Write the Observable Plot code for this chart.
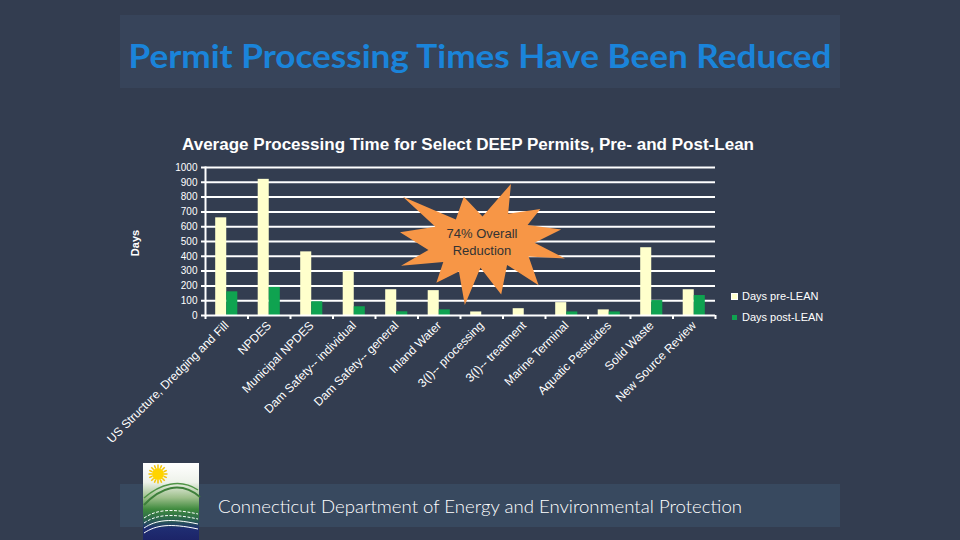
<!DOCTYPE html>
<html>
<head>
<meta charset="utf-8">
<script src="https://cdn.jsdelivr.net/npm/d3@7"></script>
<script src="https://cdn.jsdelivr.net/npm/@observablehq/plot@0.6"></script>
<style>
  html, body { margin: 0; padding: 0; background: #333D50; }
  #stage { position: relative; width: 960px; height: 540px; overflow: hidden; background: #333D50; }
  #stage > svg { position: absolute; left: 0; top: 0; }
  #overlay { pointer-events: none; }
  .legend { position: absolute; left: 732px; font: 11px "Liberation Sans", Arial, sans-serif; color: #fff; display: flex; align-items: center; white-space: nowrap; }
  .legend span.sw { display: inline-block; width: 5px; height: 5px; margin-right: 5px; }
</style>
</head>
<body>
<div id="stage"></div>
<script>
// ---- data ----
const categories = [
  "US Structure, Dredging and Fill",
  "NPDES",
  "Municipal NPDES",
  "Dam Safety-- individual",
  "Dam Safety-- general",
  "Inland Water",
  "3(I)-- processing",
  "3(I)-- treatment",
  "Marine Terminal",
  "Aquatic Pesticides",
  "Solid Waste",
  "New Source Review"
];
const preLean  = [660, 920, 430, 298, 174, 168, 24, 46, 87, 38, 458, 174];
const postLean = [160, 190, 93, 59, 25, 38, 0, 0, 24, 24, 101, 135];
const seriesNames = ["Days pre-LEAN", "Days post-LEAN"];
const yTicks = [0, 100, 200, 300, 400, 500, 600, 700, 800, 900, 1000];
const slideTitle = "Permit Processing Times Have Been Reduced";
const chartTitle = "Average Processing Time for Select DEEP Permits, Pre- and Post-Lean";
const yLabel = "Days";
const calloutLines = ["74% Overall", "Reduction"];
const footerText = "Connecticut Department of Energy and Environmental Protection";

const preColor = "#FFFFCC";
const postColor = "#0FA350";

const rows = categories.map((c, i) => ({category: c, pre: preLean[i], post: postLean[i]}));

const W = 960, H = 540;
const mL = 205, mR = 245, mT = 167, mB = 225;
const padInner = 0.48;
const step = (W - mL - mR) / categories.length;
const half = step * (1 - padInner) / 2;

const stage = document.getElementById("stage");

// background boxes (behind plot)
const bg = d3.create("svg").attr("width", W).attr("height", H);
bg.append("rect").attr("x", 120).attr("y", 15).attr("width", 720).attr("height", 73).attr("fill", "#37445A");
bg.append("rect").attr("x", 120).attr("y", 484).attr("width", 720).attr("height", 43).attr("fill", "#38495F");
stage.appendChild(bg.node());

const plot = Plot.plot({
  width: W, height: H,
  marginLeft: mL, marginRight: mR, marginTop: mT, marginBottom: mB,
  style: {background: "transparent", color: "#ffffff", fontFamily: "'Liberation Sans', Arial, sans-serif", fontSize: "10px"},
  x: {domain: categories, paddingInner: padInner, paddingOuter: padInner / 2, round: false, label: null},
  y: {domain: [0, 1000], label: null},
  marks: [
    Plot.ruleY(yTicks.filter(d => d > 0), {stroke: "#ffffff", strokeWidth: 2, insetLeft: -4}),
    Plot.barY(rows, {x: "category", y: "pre", fill: preColor, insetRight: half, insetLeft: 0}),
    Plot.barY(rows, {x: "category", y: "post", fill: postColor, insetLeft: half, insetRight: 0}),
    Plot.ruleY([0], {stroke: "#ffffff", strokeWidth: 2, insetLeft: -4}),
    Plot.frame({anchor: "left", stroke: "#ffffff", strokeWidth: 2}),
    Plot.ruleX(categories, {x: d => d, dx: -step / 2, insetTop: H - mT - mB, insetBottom: -4, stroke: "#ffffff", strokeWidth: 2}),
    Plot.ruleX(categories.slice(-1), {x: d => d, dx: step / 2, insetTop: H - mT - mB, insetBottom: -4, stroke: "#ffffff", strokeWidth: 2}),
    Plot.axisY({ticks: yTicks, tickFormat: d3.format("d"), tickSize: 0, tickPadding: 8, fontSize: 10, fill: "#ffffff"}),
    Plot.axisX({tickSize: 0, tickPadding: 8, tickRotate: -45, fontSize: 12, fill: "#ffffff"})
  ]
});
stage.appendChild(plot);

// overlay: titles, callout, footer, logo
const ov = d3.create("svg").attr("id", "overlay").attr("width", W).attr("height", H);
const defs = ov.append("defs");

ov.append("text").attr("x", 480).attr("y", 68).attr("text-anchor", "middle")
  .attr("textLength", 703).attr("lengthAdjust", "spacingAndGlyphs")
  .attr("fill", "#1A84DA").style("font", "bold 33px Lato, 'Open Sans', sans-serif")
  .text(slideTitle);

ov.append("text").attr("x", 468).attr("y", 150).attr("text-anchor", "middle")
  .attr("textLength", 572).attr("lengthAdjust", "spacingAndGlyphs")
  .attr("fill", "#ffffff").style("font", "bold 16px 'Liberation Sans', Arial, sans-serif")
  .text(chartTitle);

ov.append("text").attr("transform", "translate(139,243) rotate(-90)").attr("text-anchor", "middle")
  .attr("fill", "#ffffff").style("font", "bold 11px 'Liberation Sans', Arial, sans-serif")
  .text(yLabel);

// explosion callout (irregular seal shape)
const seal = [[10800,5800],[14522,0],[14155,5325],[18380,4457],[16702,7315],[21097,8137],[17607,10475],[21600,13290],[16837,12942],[18145,18095],[14020,14457],[13247,19737],[10532,14935],[8485,21600],[7715,15627],[4762,17617],[5667,13937],[135,14587],[3722,11775],[0,8615],[4627,7617],[370,2295],[7312,6320],[8352,2295]];
const sx = d3.scaleLinear().domain([0, 21600]).range([400, 565]);
const sy = d3.scaleLinear().domain([0, 21600]).range([184, 305]);
ov.append("path").attr("d", "M" + seal.map(p => sx(p[0]) + "," + sy(p[1])).join("L") + "Z")
  .attr("fill", "#F79646");
calloutLines.forEach((t, i) => {
  ov.append("text").attr("x", 482).attr("y", 238 + i * 17).attr("text-anchor", "middle")
    .attr("fill", "#333333").style("font", "13px 'Liberation Sans', Arial, sans-serif").text(t);
});

// footer text
ov.append("text").attr("x", 218).attr("y", 513)
  .attr("textLength", 524).attr("lengthAdjust", "spacingAndGlyphs")
  .attr("fill", "#ffffff").style("font", "300 18px Lato, 'Open Sans', sans-serif")
  .text(footerText);

// logo
const lg = defs.append("linearGradient").attr("id", "logoGrad").attr("x1", 0).attr("y1", 0).attr("x2", 0).attr("y2", 1);
[[0, "#ffffff"], [0.25, "#eef2ea"], [0.45, "#9cbf8a"], [0.6, "#3f8a3e"], [0.72, "#2d6a4a"], [0.85, "#1f2d72"], [1, "#1c2468"]]
  .forEach(([o, c]) => lg.append("stop").attr("offset", o).attr("stop-color", c));
ov.append("rect").attr("x", 143).attr("y", 463).attr("width", 56).attr("height", 77).attr("fill", "url(#logoGrad)");
const sun = ov.append("g").attr("transform", "translate(158,474)");
d3.range(16).forEach(k => {
  const a = k * Math.PI / 8;
  sun.append("line").attr("x1", 6 * Math.cos(a)).attr("y1", 6 * Math.sin(a))
    .attr("x2", 9.5 * Math.cos(a)).attr("y2", 9.5 * Math.sin(a)).attr("stroke", "#F5C400").attr("stroke-width", 1.5);
});
sun.append("circle").attr("r", 6).attr("fill", "#FFD400");
ov.append("path").attr("d", "M144,505 C160,488 180,480 200,497").attr("fill", "none").attr("stroke", "#3d7f3a").attr("stroke-width", 2);
ov.append("path").attr("d", "M144,498 C160,484 180,478 198,490").attr("fill", "none").attr("stroke", "#4f9446").attr("stroke-width", 1.5);
[0, 5, 10, 15].forEach(o => {
  ov.append("path").attr("d", `M144,${518 + o} C156,${510 + o} 170,${508 + o} 198,${514 + o}`)
    .attr("fill", "none").attr("stroke", "#ffffff").attr("stroke-width", 1).attr("stroke-dasharray", o < 10 ? "3,1.5" : null);
});
stage.appendChild(ov.node());

// legend
[[preColor, seriesNames[0], 290], [postColor, seriesNames[1], 311]].forEach(([c, t, y]) => {
  const d = document.createElement("div");
  d.className = "legend";
  d.style.top = y + "px";
  d.innerHTML = `<span class="sw" style="background:${c};${c === preColor ? 'outline:1px solid #fff;' : ''}"></span>${t}`;
  stage.appendChild(d);
});
</script>
</body>
</html>
